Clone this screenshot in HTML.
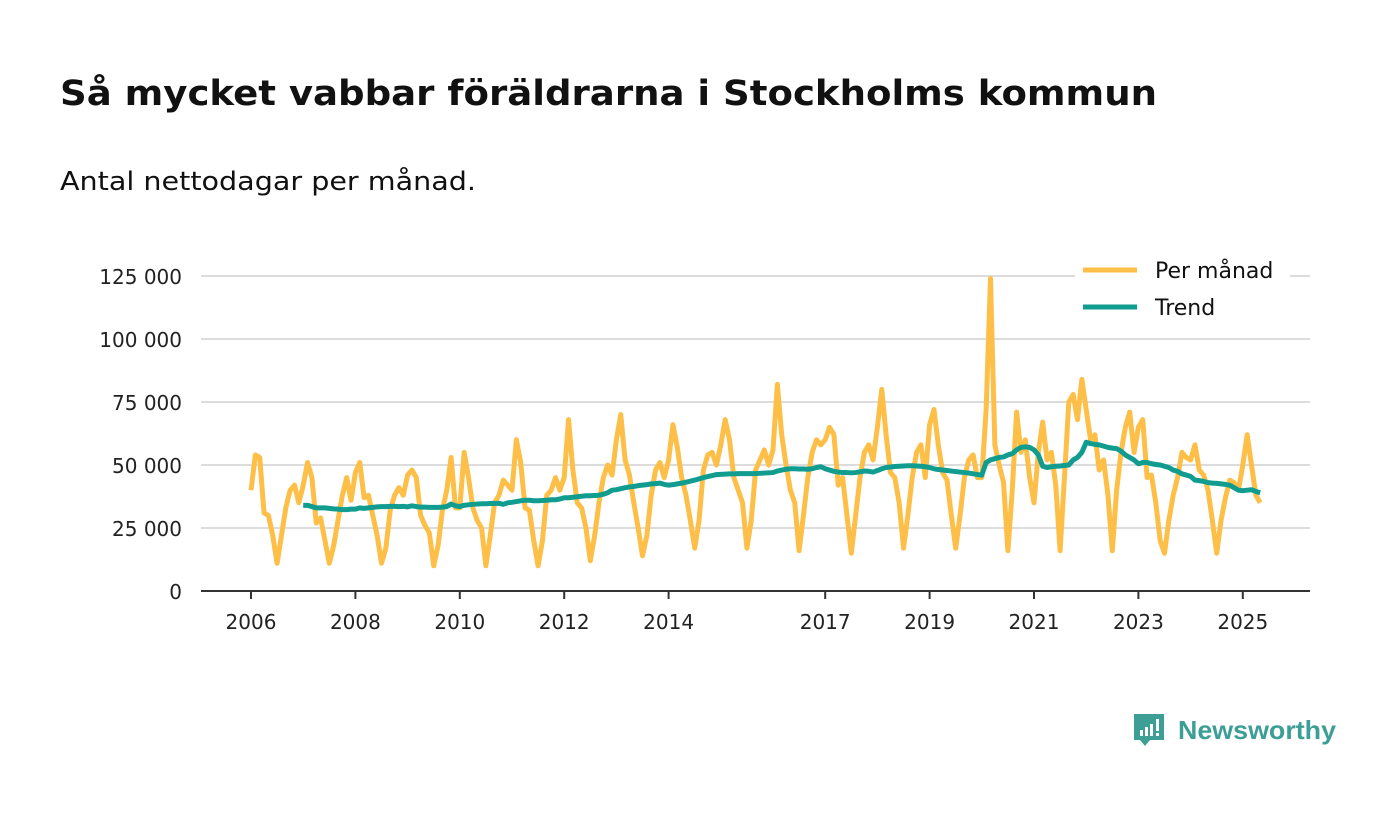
<!DOCTYPE html>
<html><head><meta charset="utf-8"><style>
body{margin:0;background:#fff;width:1400px;height:813px;overflow:hidden;font-family:"DejaVu Sans","Liberation Sans",sans-serif}
</style></head><body>
<svg id="chart" width="1400" height="813" xmlns="http://www.w3.org/2000/svg" font-family="DejaVu Sans, Liberation Sans, sans-serif">
<text x="60" y="105" font-size="35" font-weight="bold" fill="#111" textLength="1097" lengthAdjust="spacingAndGlyphs">Så mycket vabbar föräldrarna i Stockholms kommun</text>
<text x="60" y="190" font-size="26" fill="#111" textLength="416" lengthAdjust="spacingAndGlyphs">Antal nettodagar per månad.</text>
<g id="grid"></g>
<g id="yticks"></g>
<g id="xticks"></g>
<g id="series"></g>
<g>
<rect x="1075" y="252" width="215" height="72" fill="#fff"/>
<line x1="1083" y1="270" x2="1137" y2="270" stroke="#fdbf47" stroke-width="5"/>
<text x="1155" y="278" font-size="22" fill="#111">Per månad</text>
<line x1="1083" y1="307" x2="1137" y2="307" stroke="#109c8f" stroke-width="5"/>
<text x="1155" y="315" font-size="22" fill="#111">Trend</text>
</g>
<g>
<path d="M1134 714 h30 v26 h-14 l-5 6 l-5 -6 h-6 z" fill="#3d9e96"/>
<rect x="1140" y="730" width="3" height="6" fill="#fff"/><rect x="1145" y="727" width="3" height="9" fill="#fff"/><rect x="1150" y="724" width="3" height="12" fill="#fff"/><rect x="1156" y="719" width="3" height="12" fill="#fff"/><rect x="1156" y="733" width="3" height="3" fill="#fff"/>
<text x="1178" y="739" font-size="26" font-weight="bold" fill="#3d9e96" font-family="Liberation Sans, sans-serif" textLength="158" lengthAdjust="spacingAndGlyphs">Newsworthy</text>
</g>
</svg>
<script>
const yTicks=[0,25000,50000,75000,100000,125000];
const yTickLabels=["0","25 000","50 000","75 000","100 000","125 000"];
const xTickYears=[2006,2008,2010,2012,2014,2017,2019,2021,2023,2025];
const monthly=[
40,54,53,31,30,22,11,22,33,40,42,35,
42,51,45,27,29,20,11,18,28,38,45,36,
47,51,37,38,30,22,11,17,32,38,41,38,
46,48,45,30,26,23,10,18,32,40,53,33,
33,55,45,33,28,25,10,22,35,38,44,42,
40,60,51,33,32,20,10,20,38,40,45,40,
45,68,48,35,33,25,12,22,35,45,50,46,
60,70,52,46,35,25,14,22,38,48,51,45,
52,66,57,45,38,28,17,28,48,54,55,50,
58,68,60,45,40,35,17,28,48,52,56,50,
56,82,62,50,40,35,16,30,45,55,60,58,
60,65,62,42,45,30,15,30,45,55,58,52,
65,80,62,47,45,35,17,30,45,55,58,45,
66,72,58,47,44,30,17,30,45,52,54,45,
45,72,124,58,50,43,16,40,71,55,60,45,
35,55,67,52,55,42,16,45,75,78,68,84,
72,60,62,48,52,38,16,40,55,65,71,55,
65,68,45,46,35,20,15,28,38,45,55,53,
52,58,48,46,40,28,15,28,37,44,43,40,
50,62,50,38,35];
const trendStart=12;
const trend=[
34,34,33.5,33,33,33,32.8,32.6,32.5,32.3,32.3,32.5,
32.5,33,32.8,33,33.2,33.4,33.5,33.5,33.6,33.6,33.5,33.6,
33.4,33.8,33.5,33.3,33.3,33.2,33.2,33.2,33.3,33.5,34.5,33.8,
33.5,34,34.2,34.4,34.5,34.6,34.6,34.7,34.7,34.8,34.4,35,
35.2,35.5,35.8,36,36,35.8,35.8,35.9,36,36.2,36.2,36.5,
37,37,37.2,37.4,37.6,37.8,37.8,37.9,38,38.4,39,40,
40.2,40.6,41,41.3,41.5,41.8,42,42.2,42.5,42.6,42.8,42.3,
42,42.2,42.5,42.8,43.2,43.6,44,44.5,45,45.4,45.8,46.2,
46.3,46.4,46.5,46.5,46.6,46.6,46.6,46.6,46.6,46.7,46.8,46.9,
47,47.6,48,48.3,48.5,48.5,48.4,48.4,48.3,48.5,49,49.3,
48.5,48,47.5,47.2,47,47,46.9,47,47.3,47.6,47.5,47.2,
47.8,48.5,49,49.2,49.4,49.5,49.6,49.7,49.7,49.6,49.5,49.3,
49,48.5,48.2,48,47.8,47.6,47.4,47.2,47,46.8,46.5,46.2,
46,51,52,52.5,53,53.2,54,54.5,56,57,57.2,57,
56,54,49.5,49,49.3,49.5,49.6,49.8,50,52,53,55,
59,58.5,58.2,58,57.5,57,56.7,56.5,55.5,54,53,52,
50.5,51,51,50.5,50.2,50,49.5,49,48,47.5,46.5,46,
45.5,44,43.8,43.5,43,42.8,42.7,42.5,42.3,42,41,40,
39.8,40,40.2,39.5,39];
const NS="http://www.w3.org/2000/svg";
const x=i=>251+i*(52.2/12);
const y=v=>591-v/125000*315;
const mk=(t,a,p)=>{const e=document.createElementNS(NS,t);for(const k in a)e.setAttribute(k,a[k]);p.appendChild(e);return e;};
const grid=document.getElementById('grid'),yt=document.getElementById('yticks'),xt=document.getElementById('xticks'),se=document.getElementById('series');
yTicks.forEach((v,i)=>{
 if(v>0){const l=mk('line',{x1:201,x2:1310,y1:y(v),y2:y(v),stroke:'#dcdcdc','stroke-width':2},grid);
 
 }
 const t=mk('text',{x:182,y:y(v)+8,'text-anchor':'end','font-size':20,fill:'#222'},yt);t.textContent=yTickLabels[i];
 
 
});
const ax=mk('line',{x1:201,x2:1310,y1:591,y2:591,stroke:'#333','stroke-width':2},xt);


xTickYears.forEach(yr=>{
 const px=x((yr-2006)*12);
 mk('line',{x1:px,x2:px,y1:591,y2:599,stroke:'#333','stroke-width':2},xt);
 const t=mk('text',{x:px,y:629,'text-anchor':'middle','font-size':20,fill:'#222'},xt);t.textContent=yr;
 
 
});
const p1=mk('polyline',{points:monthly.map((v,i)=>x(i)+','+y(v*1000)).join(' '),fill:'none',stroke:'#fdbf47','stroke-width':5,'stroke-linejoin':'round'},se);


const p2=mk('polyline',{points:trend.map((v,i)=>x(i+trendStart)+','+y(v*1000)).join(' '),fill:'none',stroke:'#109c8f','stroke-width':5,'stroke-linejoin':'round'},se);


</script>
</body></html>
